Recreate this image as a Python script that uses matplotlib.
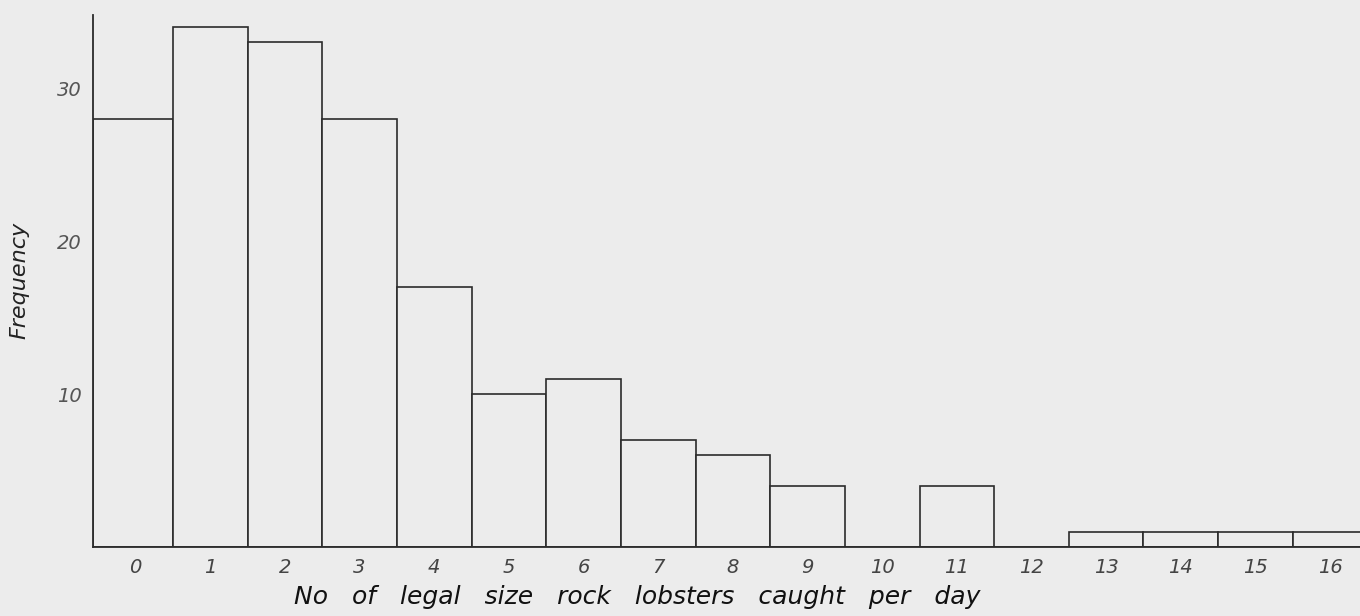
import numpy as np
import matplotlib.pyplot as plt

catches = list(range(17))
frequency = [28, 34, 33, 28, 17, 10, 11, 7, 6, 4, 0, 4, 0, 1, 1, 1, 1]
y_ticks = [10, 20, 30]

BG = '#ececec'
INK = '#2b2b2b'
X_LEFT = -0.57


def main():
    fig = plt.figure(figsize=(13.6, 6.16), dpi=100, facecolor=BG)
    ax = fig.add_axes([0.0684, 0.112, 0.9316, 0.864], facecolor=BG)

    # first bar runs right up to the y axis, as in the drawing
    lefts = np.array(catches, dtype=float) - 0.5
    widths = np.ones(len(catches))
    lefts[0] = X_LEFT
    widths[0] = 0.5 - X_LEFT
    ax.bar(lefts, frequency, width=widths, align='edge',
           color=BG, edgecolor=INK, linewidth=1.2)

    ax.set_xlim(X_LEFT, 16.4)
    ax.set_ylim(0, 34.8)
    for s in ['top', 'right']:
        ax.spines[s].set_visible(False)
    for s in ['left', 'bottom']:
        ax.spines[s].set_color(INK)
        ax.spines[s].set_linewidth(1.3)

    ax.set_xticks(catches)
    ax.set_xticklabels([str(c) for c in catches], fontsize=14, style='italic', color='#444444')
    ax.set_yticks(y_ticks)
    ax.set_yticklabels([str(t) for t in y_ticks], fontsize=14, style='italic', color='#555555')
    ax.tick_params(length=0, pad=8)

    ax.set_xlabel('No   of   legal   size   rock   lobsters   caught   per   day',
                  fontsize=18, style='italic', color='#111111')
    ax.xaxis.set_label_coords((637 - 93) / 1267, -0.072)
    ax.set_ylabel('Frequency', fontsize=16, style='italic', color='#222222')
    ax.yaxis.set_label_coords(-0.05, 0.5)

    fig.savefig('out.png', dpi=100, facecolor=BG)


if __name__ == '__main__':
    main()
